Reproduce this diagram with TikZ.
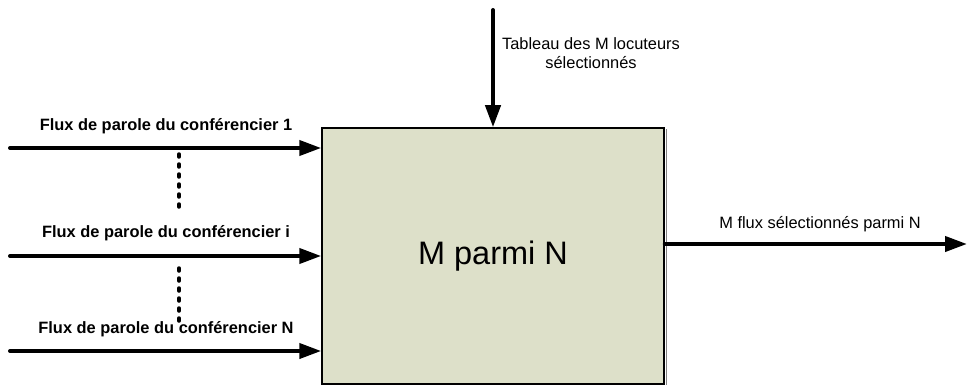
\documentclass[tikz,border=0pt]{standalone}
\usepackage{fontspec}
\setmainfont{Liberation Sans}
\usetikzlibrary{arrows.meta}
\definecolor{boxfill}{RGB}{221,224,201}
\tikzset{
    flow/.style={line width=4pt, line cap=round},
    flowlbl/.style={font=\bfseries\fontsize{16.4}{19}\selectfont, anchor=base, inner sep=0pt},
    plainlbl/.style={font=\fontsize{16.4}{19}\selectfont, inner sep=0pt}
}
\begin{document}
\begin{tikzpicture}[>={Triangle[length=22pt,width=15pt]}, x=1pt, y=-1pt]
    \useasboundingbox (0,0) rectangle (968,385);
    \node[draw, line width=1.5pt, fill=boxfill, minimum width=342pt, minimum height=256pt,
        font=\fontsize{32.5}{36}\selectfont](mn) at (493,256){M parmi N};
    \draw[gray, line width=1.5pt]([xshift=1.5pt, yshift=-2pt]mn.north east)--([xshift=1.5pt]mn.south east);
    % speaker inputs
    \foreach \name/\y/\ly/\txt in {in1/148/131/1, ini/256/237/i, inN/351/333/N}
    {
        \coordinate (\name) at (10,\y);
        \draw[flow, ->](\name)--(mn.west |- \name);
        \node[flowlbl] at (166,\ly){Flux de parole du conf\'erencier \txt};
    }
\foreach \a/\b in {154/211, 268/321}
{
    \draw[line width=3.5pt, line cap=round, dash pattern=on 3pt off 7pt](179,\a)--(179,\b);
}
    % selection table
    \coordinate (tab) at (493,10);
    \draw[flow, ->](tab)--(mn.north);
    \node[plainlbl, align=center] at (591,53){Tableau des M locuteurs\\s\'electionn\'es};
    % output
    \coordinate (out) at (967,244);
    \draw[flow, ->](mn.east |- out)--(out);
    \node[plainlbl, anchor=base] at (820,228){M flux s\'electionn\'es parmi N};
    \end{tikzpicture}
\end{document}
